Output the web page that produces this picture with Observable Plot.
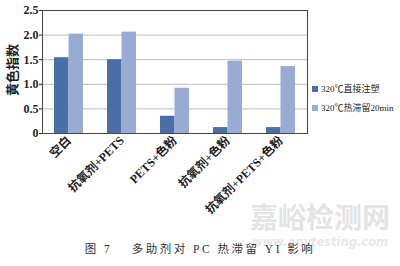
<!DOCTYPE html>
<html><head><meta charset="utf-8">
<script src="https://cdn.jsdelivr.net/npm/d3@7"></script>
<script src="https://cdn.jsdelivr.net/npm/@observablehq/plot@0.6"></script>
<style>
body{margin:0;background:#fff;}
#wrap{position:relative;width:400px;height:266px;overflow:hidden;font-family:"Liberation Serif","Noto Sans CJK SC",serif;}
#wm{position:absolute;left:250px;top:199px;font-family:"Noto Sans CJK SC";font-weight:bold;font-size:28px;line-height:34px;color:#e4e4e4;white-space:nowrap;}
#wm2{position:absolute;left:252px;top:235px;font-family:"DejaVu Sans";font-size:11.5px;line-height:14px;color:#e8e8e8;font-style:italic;font-weight:bold;white-space:nowrap;}
#legend{position:absolute;left:312px;top:79px;font-size:9px;color:#222;}
#legend div{display:flex;align-items:center;height:19px;white-space:nowrap;}
#legend span.sw{display:inline-block;width:6px;height:6px;margin-right:3px;}
#caption{position:absolute;left:0;top:240px;width:400px;text-align:center;font-size:11.5px;letter-spacing:2.5px;color:#333;white-space:nowrap;}
#ylab{position:absolute;left:12px;top:70px;transform:translate(-50%,-50%) rotate(-90deg);font-family:"Noto Sans CJK SC";font-size:13px;font-weight:bold;color:#222;white-space:nowrap;line-height:16px;}
</style></head>
<body><div id="wrap"><div id="wm"></div><div id="wm2"></div></div>
<script>
const categories = ["空白", "抗氧剂+PETS", "PETS+色粉", "抗氧剂+色粉", "抗氧剂+PETS+色粉"];
const seriesNames = ["320℃直接注塑", "320℃热滞留20min"];
const direct = [1.54, 1.50, 0.35, 0.12, 0.12];
const retained = [2.02, 2.06, 0.92, 1.47, 1.36];
const yTicks = [0, 0.5, 1.0, 1.5, 2.0, 2.5];
const yLabel = "黄色指数";
const colors = ["#4a6ea7", "#97abd5"];

const rowsA = categories.map((c, i) => ({cat: c, v: direct[i]}));
const rowsB = categories.map((c, i) => ({cat: c, v: retained[i]}));

const plot = Plot.plot({
  width: 400, height: 232,
  marginLeft: 42, marginRight: 93, marginTop: 10, marginBottom: 99,
  style: {fontFamily: '"Liberation Serif","Noto Sans CJK SC",serif', fontSize: "12px", color: "#222", background: "transparent"},
  x: {domain: categories, padding: 0, tickSize: 0, tickRotate: -45, tickPadding: 5, label: null},
  y: {domain: [0, 2.5], ticks: yTicks, tickFormat: d => d === 0 ? "0" : d.toFixed(1), tickSize: 3, tickPadding: 1, label: null},
  marks: [
    Plot.ruleY(yTicks.filter(d => d > 0), {stroke: "#aaa", strokeWidth: 0.8}),
    Plot.barY(rowsA, {x: "cat", y: "v", fill: colors[0], insetLeft: 12, insetRight: 26.5}),
    Plot.barY(rowsB, {x: "cat", y: "v", fill: colors[1], insetLeft: 26.5, insetRight: 12}),
    Plot.frame({stroke: "#444", strokeWidth: 1})
  ]
});
plot.style.position = "relative";
const wrap = document.getElementById("wrap");
wrap.appendChild(plot);
d3.select(plot).selectAll("g[aria-label='y-axis tick label'] text, g[aria-label='x-axis tick label'] text").style("font-weight", "bold");

document.getElementById("wm").textContent = "嘉峪检测网";
document.getElementById("wm2").textContent = "www.anytesting.com";

const yl = document.createElement("div");
yl.id = "ylab"; yl.textContent = yLabel; wrap.appendChild(yl);

const lg = document.createElement("div");
lg.id = "legend";
seriesNames.forEach((s, i) => {
  const d = document.createElement("div");
  d.innerHTML = `<span class="sw" style="background:${colors[i]}"></span>${s}`;
  lg.appendChild(d);
});
wrap.appendChild(lg);

const cap = document.createElement("div");
cap.id = "caption";
cap.textContent = "图 7　 多助剂对 PC 热滞留 YI 影响";
wrap.appendChild(cap);
</script></body></html>
